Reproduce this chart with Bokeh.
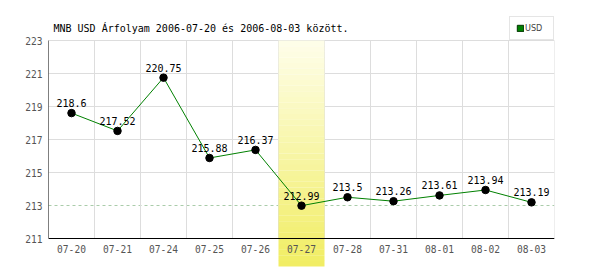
from bokeh.plotting import figure
from bokeh.models import (FactorRange, Range1d, FixedTicker, Span, Label,
                          Legend, LegendItem, ColumnDataSource)
from bokeh.core.properties import value
from bokeh.embed import file_html
from bokeh.resources import INLINE

dates = ["07-20", "07-21", "07-24", "07-25", "07-26", "07-27",
         "07-28", "07-31", "08-01", "08-02", "08-03"]
rates = [218.6, 217.52, 220.75, 215.88, 216.37, 212.99,
         213.5, 213.26, 213.61, 213.94, 213.19]
rate_labels = ["218.6", "217.52", "220.75", "215.88", "216.37", "212.99",
               "213.5", "213.26", "213.61", "213.94", "213.19"]
y_ticks = [211, 213, 215, 217, 219, 221, 223]
highlight_date = "07-27"
ref_level = 213
series_name = "USD"
title_text = "MNB USD Árfolyam 2006-07-20 és 2006-08-03 között."

MONO = "DejaVu Sans Mono"
Y0, Y1 = y_ticks[0], y_ticks[-1]
NAN = float("nan")

# layout (pixels): plot area spans y=40 (top tick) .. y=238 (bottom tick)
W, H = 600, 270
TOP_BORDER = 10
PLOT_TOP, PLOT_BOTTOM = 40, 238
PX = (PLOT_BOTTOM - PLOT_TOP) / (Y1 - Y0)
y_start = Y0 - (H - PLOT_BOTTOM) / PX
y_end = Y1 + (PLOT_TOP - TOP_BORDER) / PX

p = figure(width=W, height=H, title=None,
           x_range=FactorRange(*dates), y_range=Range1d(y_start, y_end),
           output_backend="svg", toolbar_location=None,
           min_border_left=48, min_border_right=46,
           min_border_top=TOP_BORDER, min_border_bottom=0)
p.outline_line_color = None
p.background_fill_color = "white"
p.border_fill_color = "white"

# horizontal grid
p.xgrid.visible = False
p.ygrid.ticker = FixedTicker(ticks=[t for t in y_ticks if t != ref_level])
p.ygrid.grid_line_color = "#dddddd"

# vertical grid at category boundaries
bounds = list(range(1, len(dates) + 1))
p.segment(x0=bounds, x1=bounds, y0=[Y0] * len(bounds), y1=[Y1] * len(bounds),
          line_color="#dddddd", line_width=1)
p.add_layout(Span(location=ref_level, dimension="width", line_color="#aaccaa",
                  line_dash="3 3", line_width=1, level="underlay"))

# highlighted column with vertical gradient (extends below the axis)
hi = dates.index(highlight_date)
bottom_val = Y0 - 28 / PX
n = 40
top_c = (254, 254, 234)
bot_c = (241, 237, 98)
tops, bots, cols = [], [], []
for k in range(n):
    tops.append(Y1 - (Y1 - bottom_val) * k / n)
    bots.append(Y1 - (Y1 - bottom_val) * (k + 1) / n - 0.005)
    f = (k + 0.5) / n
    c = tuple(int(round(top_c[j] + (bot_c[j] - top_c[j]) * f)) for j in range(3))
    cols.append("#%02x%02x%02x" % c)
p.quad(left=[hi] * n, right=[hi + 1] * n, top=tops, bottom=bots,
       fill_color=cols, line_color=None)

# axis lines
p.segment(x0=[0], x1=[0], y0=[Y0], y1=[Y1], line_color="black", line_width=1)
p.segment(x0=[0], x1=[len(dates)], y0=[Y0], y1=[Y0], line_color="black", line_width=1)

# y axis (real)
p.xaxis.visible = False
ax = p.yaxis
ax.ticker = FixedTicker(ticks=y_ticks)
ax.axis_line_color = None
ax.major_tick_line_color = None
ax.minor_tick_line_color = None
ax.major_tick_out = 0
ax.major_tick_in = 0
ax.major_label_standoff = 6
ax.major_label_text_font = MONO
ax.major_label_text_font_size = "9.6px"
ax.major_label_text_color = "#555555"

# category labels
p.text(x=dates, y=[Y0] * len(dates), text=dates, text_font=value(MONO),
       text_font_size="9.6px", text_color="#555555", text_align="center",
       text_baseline="alphabetic", y_offset=10)

# series
src = ColumnDataSource(dict(d=dates, r=rates, t=rate_labels))
p.line("d", "r", source=src, line_color="#008000", line_width=1)
p.scatter("d", "r", source=src, size=7.5, fill_color="black", line_color="black")
p.text("d", "r", text="t", source=src, text_font=value(MONO),
       text_font_size="10px", text_color="black", text_align="center",
       text_baseline="alphabetic", y_offset=-10)

# title
p.add_layout(Label(x=5, y=H - 27.5, x_units="screen", y_units="screen",
                   text=title_text, text_font=MONO, text_font_size="10px",
                   text_color="black", text_baseline="alphabetic"))

# legend (swatch renderer has no visible mark)
sw = p.quad(left=[NAN], right=[NAN], top=[NAN], bottom=[NAN],
            fill_color="#008000", line_color="#003300", line_width=1)
leg = Legend(items=[LegendItem(label=series_name, renderers=[sw])],
             location=(461, H - PLOT_TOP), padding=6, spacing=0,
             glyph_width=8, glyph_height=8, label_height=8, label_width=22,
             label_standoff=1, label_text_font_size="9px",
             label_text_font="DejaVu Sans Condensed", label_text_color="#444444",
             border_line_color="#cccccc", background_fill_color="white",
             background_fill_alpha=1, margin=0)
p.add_layout(leg)

open("out.html", "w").write(file_html(p, INLINE))
